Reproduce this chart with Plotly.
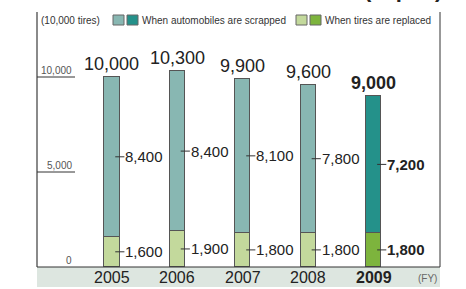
import plotly.graph_objects as go

years = ["2005", "2006", "2007", "2008", "2009"]
scrapped = [8400, 8400, 8100, 7800, 7200]
replaced = [1600, 1900, 1800, 1800, 1800]
totals = [10000, 10300, 9900, 9600, 9000]
y_ticks = [0, 5000, 10000]
y_tick_labels = ["0", "5,000", "10,000"]

scr_colors = ["#88b7b2"] * 4 + ["#24918a"]
rep_colors = ["#c3d99c"] * 4 + ["#7db43d"]

W, H = 466, 289
L, R, T, B = 37, 26, 12, 22
plot_h = H - T - B
px_per_unit = 190 / 10000.0
ymax = plot_h / px_per_unit

xs = list(range(len(years)))
bw = 0.23

FONT = "Liberation Sans, Arial, sans-serif"

fig = go.Figure()
fig.add_bar(x=xs, y=replaced, width=bw, marker=dict(color=rep_colors, line=dict(color="#555", width=1)),
            hoverinfo="skip")
fig.add_bar(x=xs, y=scrapped, width=bw, marker=dict(color=scr_colors, line=dict(color="#555", width=1)),
            hoverinfo="skip")

def px2paper_x(px):
    return (px - L) / (W - L - R)

def px2paper_y(py):
    return (H - B - py) / plot_h

shapes = []
ann = []

# bottom band
shapes.append(dict(type="rect", xref="paper", yref="paper", x0=0, x1=1,
                   y0=px2paper_y(287), y1=0, fillcolor="#dde6e0", line=dict(width=0), layer="below"))
# frame lines
shapes.append(dict(type="line", xref="paper", yref="paper", x0=0, x1=0, y0=0, y1=1,
                   line=dict(color="#8a8a8a", width=2)))
shapes.append(dict(type="line", xref="paper", yref="paper", x0=1, x1=1, y0=0, y1=1,
                   line=dict(color="#333", width=1)))
shapes.append(dict(type="line", xref="paper", yref="paper", x0=0, x1=1, y0=0, y1=0,
                   line=dict(color="#333", width=1)))

# y ticks
tick_x1 = px2paper_x(75)
for v, lab in zip(y_ticks, y_tick_labels):
    if v > 0:
        shapes.append(dict(type="line", xref="paper", yref="y", x0=0, x1=tick_x1, y0=v, y1=v,
                           line=dict(color="#333", width=1)))
    ann.append(dict(xref="paper", yref="y", x=px2paper_x(74), y=v, xanchor="right", yanchor="bottom",
                    text=lab, showarrow=False, font=dict(family=FONT, size=10, color="#555"), yshift=-1))

# labels
for i, yr in enumerate(years):
    bold = (i == len(years) - 1)
    def b(s):
        return "<b>%s</b>" % s if bold else s
    ann.append(dict(x=i, y=totals[i], xanchor="center", yanchor="bottom", text=b(f"{totals[i]:,}"),
                    showarrow=False, font=dict(family=FONT, size=18, color="#222"), yshift=1))
    for val, mid in ((scrapped[i], replaced[i] + scrapped[i] / 2), (replaced[i], replaced[i] / 2)):
        shapes.append(dict(type="line", xref="x", yref="y", x0=i + 0.05, x1=i + 0.19, y0=mid, y1=mid,
                           line=dict(color="#333", width=1)))
        ann.append(dict(x=i + 0.19, y=mid, xanchor="left", yanchor="middle", text=b(f"{val:,}"),
                        showarrow=False, font=dict(family=FONT, size=15, color="#222"), xshift=-1))
    ann.append(dict(x=i, yref="paper", y=px2paper_y(277), xanchor="center", yanchor="middle", text=b(yr),
                    showarrow=False, font=dict(family=FONT, size=16, color="#222")))

ann.append(dict(xref="paper", yref="paper", x=px2paper_x(439), y=px2paper_y(278), xanchor="right",
                yanchor="middle", text="(FY)", showarrow=False, font=dict(family=FONT, size=10, color="#666")))

# legend
ann.append(dict(xref="paper", yref="paper", x=px2paper_x(39), y=px2paper_y(20), xanchor="left",
                yanchor="middle", text="(10,000 tires)", showarrow=False,
                font=dict(family=FONT, size=10, color="#333")))
for (x0, c1, c2, label) in ((113, "#88b7b2", "#24918a", "When automobiles are scrapped"),
                            (296, "#c3d99c", "#7db43d", "When tires are replaced")):
    for k, c in enumerate((c1, c2)):
        shapes.append(dict(type="rect", xref="paper", yref="paper",
                           x0=px2paper_x(x0 + k * 14), x1=px2paper_x(x0 + k * 14 + 11),
                           y0=px2paper_y(25), y1=px2paper_y(15), fillcolor=c,
                           line=dict(color="#666", width=1)))
    ann.append(dict(xref="paper", yref="paper", x=px2paper_x(x0 + 27), y=px2paper_y(20), xanchor="left",
                    yanchor="middle", text=label, showarrow=False,
                    font=dict(family=FONT, size=10, color="#333")))

# cut-off heading at top right (only its lower edge shows in the reference)
ann.append(dict(xref="paper", yref="paper", x=px2paper_x(403), y=px2paper_y(4), xanchor="center",
                yanchor="bottom", text="<b>(Japan)</b>", showarrow=False,
                font=dict(family=FONT, size=22, color="#222")))

fig.update_layout(
    width=W, height=H, margin=dict(l=L, r=R, t=T, b=B),
    barmode="stack", bargap=0, showlegend=False,
    plot_bgcolor="white", paper_bgcolor="white",
    xaxis=dict(range=[-1.145, 5.01], visible=False, fixedrange=True),
    yaxis=dict(range=[0, ymax], visible=False, fixedrange=True),
    shapes=shapes, annotations=ann,
)
fig.write_html("out.html", config={"displayModeBar": False},
               post_script="document.body.style.margin='0';document.body.style.padding='0';")
